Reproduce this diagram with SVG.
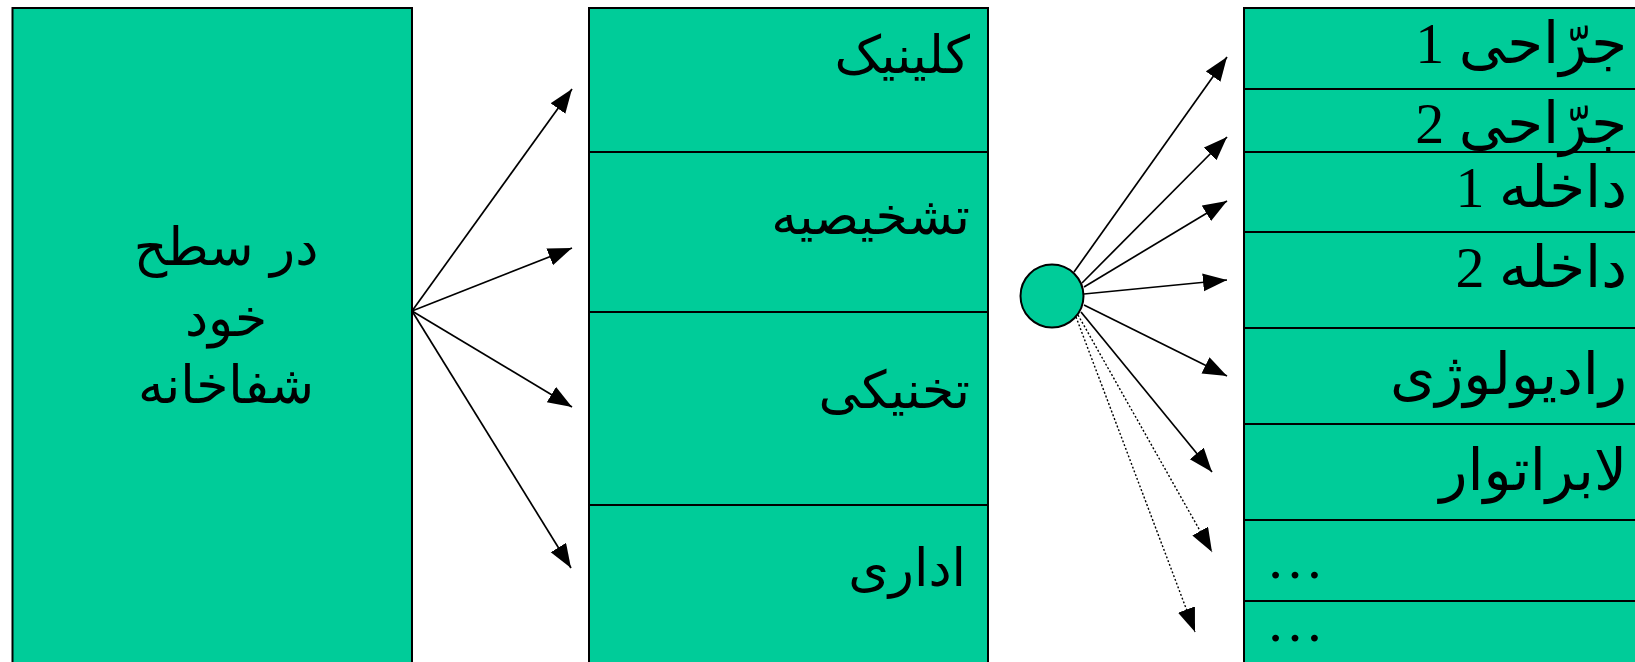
<svg xmlns="http://www.w3.org/2000/svg" width="1635" height="662" viewBox="0 0 1635 662">
<style>
.box{fill:#00CC99;stroke:#000;stroke-width:2}
.div{stroke:#000;stroke-width:1.8}
.sans{font-family:"DejaVu Sans",sans-serif;font-size:52px;fill:#000}
.serif{font-family:"Liberation Serif","DejaVu Serif","DejaVu Sans",serif;font-size:58px;fill:#000}
.ln{stroke:#000;stroke-width:1.7;fill:none}
.dot{stroke:#000;stroke-width:1.4;fill:none;stroke-dasharray:2 2}
</style>
<defs>
<marker id="ah" markerUnits="userSpaceOnUse" markerWidth="26" markerHeight="20" refX="24" refY="9" orient="auto">
<path d="M0,0 L24,9 L0,18 z" fill="#000"/>
</marker>
</defs>
<rect width="1635" height="662" fill="#fff"/>
<g id="hospital">
<rect class="box" x="12.5" y="8" width="399.5" height="670"/>
<text class="sans" x="226" y="265" text-anchor="middle" direction="rtl">در سطح</text>
<text class="sans" x="226" y="336" text-anchor="middle" direction="rtl">خود</text>
<text class="sans" x="226" y="403" text-anchor="middle" direction="rtl">شفاخانه</text>
</g>
<g id="categories">
<rect class="box" x="589" y="8" width="399" height="670"/>
<line class="div" x1="589" y1="152" x2="988" y2="152"/>
<line class="div" x1="589" y1="312" x2="988" y2="312"/>
<line class="div" x1="589" y1="505" x2="988" y2="505"/>
<text class="sans" x="970" y="73" text-anchor="start" direction="rtl">کلینیک</text>
<text class="sans" x="970" y="234" text-anchor="start" direction="rtl">تشخیصیه</text>
<text class="sans" x="970" y="408" text-anchor="start" direction="rtl">تخنیکی</text>
<text class="sans" x="966" y="586" text-anchor="start" direction="rtl">اداری</text>
</g>
<g id="departments">
<rect class="box" x="1244" y="8" width="420" height="670"/>
<line class="div" x1="1244" y1="89" x2="1635" y2="89"/>
<line class="div" x1="1244" y1="152" x2="1635" y2="152"/>
<line class="div" x1="1244" y1="232" x2="1635" y2="232"/>
<line class="div" x1="1244" y1="328" x2="1635" y2="328"/>
<line class="div" x1="1244" y1="424" x2="1635" y2="424"/>
<line class="div" x1="1244" y1="520" x2="1635" y2="520"/>
<line class="div" x1="1244" y1="601" x2="1635" y2="601"/>
<text class="serif" x="1627" y="63" text-anchor="start" direction="rtl">جرّاحی 1</text>
<text class="serif" x="1627" y="143" text-anchor="start" direction="rtl">جرّاحی 2</text>
<text class="serif" x="1627" y="207" text-anchor="start" direction="rtl">داخله 1</text>
<text class="serif" x="1627" y="287" text-anchor="start" direction="rtl">داخله 2</text>
<text class="serif" x="1627" y="394" text-anchor="start" direction="rtl">رادیولوژی</text>
<text class="serif" x="1627" y="490" text-anchor="start" direction="rtl">لابراتوار</text>
<text class="serif" x="1266" y="578" text-anchor="start">…</text>
<text class="serif" x="1266" y="641" text-anchor="start">…</text>
</g>
<g id="connectors">
<line class="ln" x1="412" y1="311" x2="572" y2="89" marker-end="url(#ah)"/>
<line class="ln" x1="412" y1="311" x2="572" y2="248" marker-end="url(#ah)"/>
<line class="ln" x1="412" y1="311" x2="572" y2="407" marker-end="url(#ah)"/>
<line class="ln" x1="412" y1="311" x2="571" y2="568" marker-end="url(#ah)"/>
<line class="ln" x1="1074" y1="272" x2="1227" y2="57" marker-end="url(#ah)"/>
<line class="ln" x1="1082" y1="283" x2="1227" y2="137" marker-end="url(#ah)"/>
<line class="ln" x1="1084" y1="287" x2="1227" y2="201" marker-end="url(#ah)"/>
<line class="ln" x1="1084" y1="294" x2="1227" y2="280" marker-end="url(#ah)"/>
<line class="ln" x1="1084" y1="305" x2="1227" y2="376" marker-end="url(#ah)"/>
<line class="ln" x1="1081" y1="312" x2="1212" y2="472" marker-end="url(#ah)"/>
<line class="dot" x1="1078" y1="315" x2="1212" y2="552" marker-end="url(#ah)"/>
<line class="dot" x1="1076" y1="317" x2="1195" y2="632" marker-end="url(#ah)"/>
</g>
<g id="hub">
<circle cx="1052" cy="296" r="31.5" fill="#00CC99" stroke="#000" stroke-width="2"/>
</g>
</svg>
